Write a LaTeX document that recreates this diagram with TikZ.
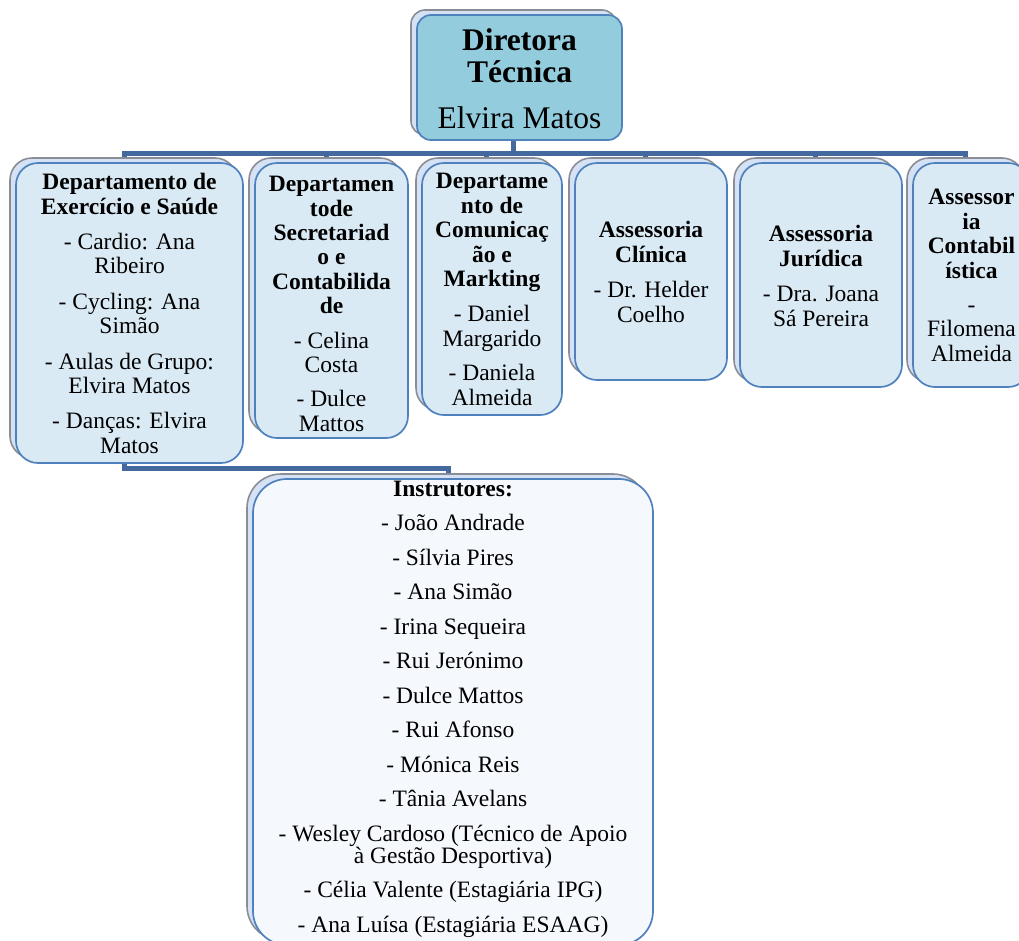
\documentclass[tikz,border=0pt]{standalone}
\usepackage{fontspec}
\setmainfont{Liberation Serif}
\usetikzlibrary{backgrounds}
\definecolor{connc}{HTML}{44699F}
\definecolor{frontblue}{HTML}{4F81BD}
\definecolor{topfill}{HTML}{93CDDD}
\definecolor{boxfill}{HTML}{DAEAF4}
\definecolor{insfill}{HTML}{F5F8FD}
\definecolor{backfill}{HTML}{D5E1F5}
\definecolor{backedge}{HTML}{8A8D93}
\tikzset{
  frontbox/.style={draw=frontblue, line width=1.7pt, inner sep=0pt},
  backbox/.style={draw=backedge, line width=1.6pt, fill=backfill},
  connector/.style={draw=connc, line width=5pt},
  txt/.style={align=center, inner sep=0pt, font=\fontsize{23.5}{24.4}\selectfont},
}
\newcommand\stackbox[7]{% name, cx, cy, w, h, fill, radius
  \path[backbox, rounded corners=#7] (#2-#4/2-6, #3-#5/2-5) rectangle ++(#4,#5);
  \node[frontbox, fill=#6, rounded corners=#7, minimum width=#4pt, minimum height=#5pt] (#1) at (#2,#3) {};
}
\begin{document}
\begin{tikzpicture}[x=1pt,y=-1pt]
\clip (0,0) rectangle (1019,940);
\coordinate (bus) at (0,153);
\coordinate (bustwo) at (0,468);

\stackbox{top}{519.5}{77.5}{205}{125}{topfill}{14pt}
\stackbox{d1}{129.5}{313}{227}{300}{boxfill}{22pt}
\stackbox{d2}{331.5}{300.5}{153}{275}{boxfill}{22pt}
\stackbox{d3}{492}{289}{140}{252}{boxfill}{22pt}
\stackbox{d4}{651}{271.5}{152}{217}{boxfill}{22pt}
\stackbox{d5}{821}{275}{162}{224}{boxfill}{22pt}
\stackbox{d6}{971.5}{275}{117}{224}{boxfill}{22pt}
\stackbox{ins}{453}{712}{400}{466}{insfill}{34pt}

\node[align=center, inner sep=0pt, font=\fontsize{31.5}{32}\selectfont] (topt) at (519.5,79)
  {\textbf{Diretora}\\\textbf{Técnica}\\[14pt]Elvira Matos};
\node[txt] (d1t) at (129.5,313.5)
  {\textbf{Departamento de}\\\textbf{Exercício e Saúde}\\[11pt]- Cardio: Ana\\Ribeiro\\[11pt]- Cycling: Ana\\Simão\\[11pt]- Aulas de Grupo:\\Elvira Matos\\[11pt]- Danças: Elvira\\Matos};
\node[txt] (d2t) at (331.5,304)
  {\textbf{Departamen}\\\textbf{tode}\\\textbf{Secretariad}\\\textbf{o e}\\\textbf{Contabilida}\\\textbf{de}\\[10pt]- Celina\\Costa\\[10pt]- Dulce\\Mattos};
\node[txt] (d3t) at (492,289.5)
  {\textbf{Departame}\\\textbf{nto de}\\\textbf{Comunicaç}\\\textbf{ão e}\\\textbf{Markting}\\[11pt]- Daniel\\Margarido\\[10pt]- Daniela\\Almeida};
\node[txt] (d4t) at (651,272)
  {\textbf{Assessoria}\\\textbf{Clínica}\\[11pt]- Dr. Helder\\Coelho};
\node[txt] (d5t) at (821,276)
  {\textbf{Assessoria}\\\textbf{Jurídica}\\[11pt]- Dra. Joana\\Sá Pereira};
\node[txt] (d6t) at (971.5,275.5)
  {\textbf{Assessor}\\\textbf{ia}\\\textbf{Contabil}\\\textbf{ística}\\[10pt]-\\Filomena\\Almeida};
\node[txt, font=\fontsize{23.5}{22}\selectfont] (inst) at (453,709)
  {\textbf{Instrutores:}\\[12.5pt]- João Andrade\\[12.5pt]- Sílvia Pires\\[12.5pt]- Ana Simão\\[12.5pt]- Irina Sequeira\\[12.5pt]- Rui Jerónimo\\[12.5pt]- Dulce Mattos\\[12.5pt]- Rui Afonso\\[12.5pt]- Mónica Reis\\[12.5pt]- Tânia Avelans\\[12.5pt]- Wesley Cardoso (Técnico de Apoio\\à Gestão Desportiva)\\[12.5pt]- Célia Valente (Estagiária IPG)\\[12.5pt]- Ana Luísa (Estagiária ESAAG)};

\begin{scope}[on background layer]
\foreach \c/\s in {d1/-5.5, d2/-5.5, d3/-6, d4/-6, d5/-6, d6/-6.5}{
  \draw[connector] ([xshift=-6.5pt]top.south) -- ([xshift=-6.5pt]top.south |- bus) -| ([xshift=\s pt]\c.north);
}
\draw[connector] ([xshift=-5.5pt]d1.south) -- ([xshift=-5.5pt]d1.south |- bustwo) -| ([xshift=-5pt]ins.north);
\end{scope}
\end{tikzpicture}
\end{document}
